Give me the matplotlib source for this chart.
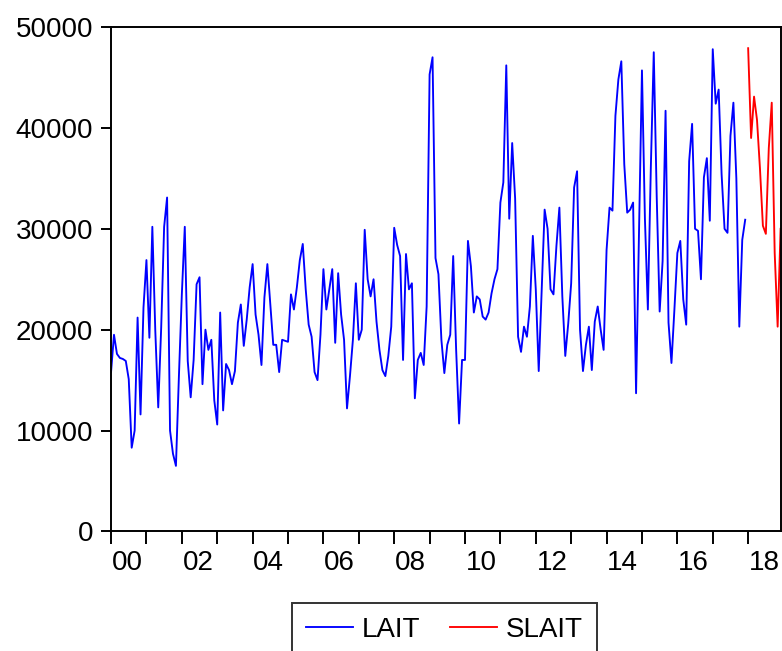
import numpy as np
import matplotlib
matplotlib.use("Agg")
import matplotlib.pyplot as plt

plt.rcParams['font.family'] = ['Liberation Sans', 'DejaVu Sans']

# monthly series, 2000M01 - 2017M12 (one row per year)
lait = [
    15800, 19500, 17600, 17200, 17100, 16900, 15100, 8300, 10000, 21200, 11600, 22200,   # 2000
    26900, 19200, 30200, 19900, 12300, 20200, 30200, 33100, 10000, 7700, 6500, 15300,    # 2001
    23500, 30200, 16900, 13300, 17000, 24500, 25200, 14600, 20000, 18000, 19000, 13000,  # 2002
    10600, 21700, 12000, 16600, 16000, 14600, 15900, 20700, 22500, 18400, 21000, 24200,  # 2003
    26500, 21500, 19500, 16500, 23200, 26500, 22500, 18500, 18500, 15800, 19000, 18900,  # 2004
    18800, 23500, 22000, 24200, 26900, 28500, 24000, 20500, 19300, 15800, 15000, 19500,  # 2005
    26000, 22000, 24000, 26000, 18700, 25600, 21500, 19000, 12200, 15400, 19000, 24600,  # 2006
    19000, 20000, 29900, 25000, 23300, 25000, 20800, 18000, 16000, 15400, 17400, 20300,  # 2007
    30100, 28400, 27300, 17000, 27500, 24000, 24600, 13200, 17000, 17700, 16500, 22300,  # 2008
    45300, 47000, 27100, 25500, 19000, 15700, 18500, 19500, 27300, 18000, 10700, 17000,  # 2009
    17000, 28800, 26300, 21700, 23300, 23000, 21300, 21000, 21700, 23600, 25000, 26000,  # 2010
    32600, 34600, 46200, 31000, 38500, 33000, 19300, 17800, 20300, 19300, 22300, 29300,  # 2011
    24000, 15900, 24000, 31900, 30000, 24000, 23500, 28300, 32100, 23300, 17400, 20600,  # 2012
    24600, 34100, 35700, 20000, 15900, 18500, 20300, 16000, 20800, 22300, 20000, 18000,  # 2013
    27900, 32100, 31800, 41200, 44800, 46600, 36400, 31600, 31900, 32600, 13700, 30000,  # 2014
    45700, 31000, 22000, 36000, 47500, 33200, 21800, 26800, 41700, 20700, 16700, 22000,  # 2015
    27600, 28800, 23000, 20500, 36700, 40400, 30000, 29800, 25000, 35100, 37000, 30800,  # 2016
    47800, 42400, 43800, 35400, 30000, 29600, 39200, 42500, 35000, 20300, 28900, 30900,  # 2017
]

# forecast, 2018M01 - 2018M12
slait = [47900, 39000, 43100, 40800, 36000, 30300, 29500, 38000, 42500, 27600, 20300, 30000]

year_labels = ['00', '02', '04', '06', '08', '10', '12', '14', '16', '18']
y_ticks = [0, 10000, 20000, 30000, 40000, 50000]

t_lait = np.arange(len(lait))
t_slait = np.arange(len(lait), len(lait) + len(slait))

fig = plt.figure(figsize=(7.82, 6.51), dpi=100)
ax = fig.add_axes([0.142, 0.1836, 0.8562, 0.7749])

ax.plot(t_lait, lait, color='#0000ff', lw=1.35, label='LAIT')
ax.plot(t_slait, slait, color='#ff0000', lw=1.35, label='SLAIT')

ax.set_xlim(0, len(lait) + len(slait) - 1)
ax.set_ylim(0, 50000)
ax.set_yticks(y_ticks)
ax.set_yticklabels([str(v) for v in y_ticks])

# year ticks without labels, labels sit inside each even year
ax.set_xticks(np.arange(0, len(lait) + len(slait), 12))
ax.set_xticklabels([])
ax.set_xticks(np.arange(len(year_labels)) * 24 + 5.5, minor=True)
ax.set_xticklabels(year_labels, minor=True)
ax.tick_params(axis='x', which='minor', length=0, pad=13, labelsize=20)
ax.tick_params(axis='x', which='major', length=9, width=1.4, direction='out')
ax.tick_params(axis='y', length=7, width=1.4, direction='out', pad=6, labelsize=20)

for s in ax.spines.values():
    s.set_linewidth(1.4)

leg = fig.legend(loc='upper center', bbox_to_anchor=(0.5685, 1 - 603 / 651), ncol=2,
                 fontsize=20, frameon=True, fancybox=False, edgecolor='black',
                 handlelength=1.7, handletextpad=0.32, columnspacing=1.05,
                 borderpad=0.5, borderaxespad=0)
leg.get_frame().set_linewidth(1.4)

fig.savefig('out.png', dpi=100)
